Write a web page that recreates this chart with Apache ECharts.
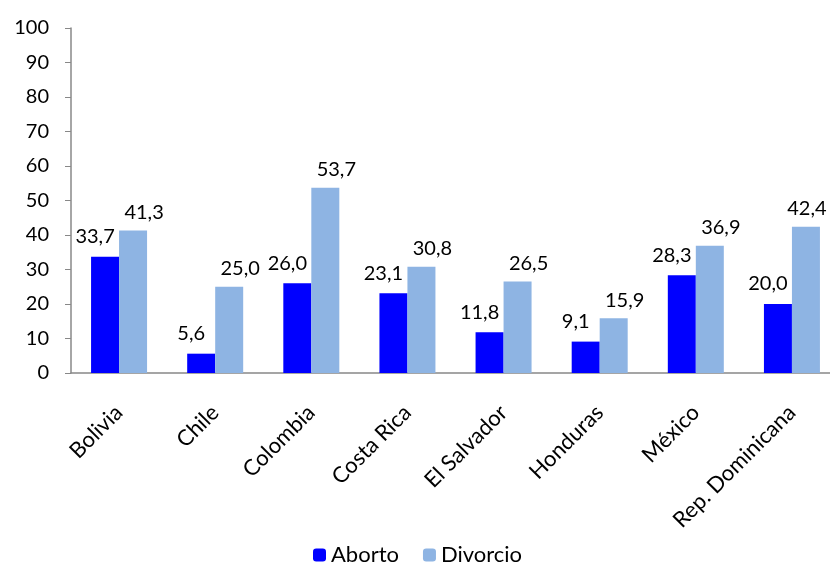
<!DOCTYPE html>
<html>
<head>
<meta charset="utf-8">
<script src="https://cdn.jsdelivr.net/npm/echarts@6/dist/echarts.min.js"></script>
<style>
  html, body { margin: 0; padding: 0; background: #fff; overflow: hidden; }
  /* el eje se sale un poco por la derecha, como en el original */
  #chart { width: 845px; height: 562px; }
</style>
</head>
<body>
<div id="chart"></div>
<script>
  const paises = ['Bolivia', 'Chile', 'Colombia', 'Costa Rica', 'El Salvador', 'Honduras', 'México', 'Rep. Dominicana']
  const aborto = [33.7, 5.6, 26.0, 23.1, 11.8, 9.1, 28.3, 20.0]
  const divorcio = [41.3, 25.0, 53.7, 30.8, 26.5, 15.9, 36.9, 42.4]

  const fuente = 'Lato, "Open Sans", sans-serif'
  const fmt = p => p.value.toFixed(1).replace('.', ',')

  const myChart = echarts.init(document.getElementById('chart'))
  const option = {
    textStyle: { fontFamily: fuente },
    animation: false,
    grid: { left: 71, top: 28, width: 769, height: 345 },
    legend: {
      top: 539,
      left: 308,
      itemWidth: 13,
      itemHeight: 13,
      itemGap: 24,
      textStyle: { fontSize: 22, color: '#000', fontFamily: fuente },
      data: ['Aborto', 'Divorcio']
    },
    xAxis: {
      type: 'category',
      data: paises,
      axisLine: { lineStyle: { color: '#888', width: 1.5 } },
      axisTick: { length: 5, lineStyle: { color: '#888' } },
      axisLabel: { rotate: 45, margin: 36, fontSize: 22, color: '#000', interval: 0 }
    },
    yAxis: {
      type: 'value',
      min: 0,
      max: 100,
      interval: 10,
      splitLine: { show: false },
      axisLine: { show: true, lineStyle: { color: '#888', width: 1.5 } },
      axisTick: { show: true, length: 6, lineStyle: { color: '#888' } },
      axisLabel: { margin: 22, fontSize: 20, color: '#000' }
    },
    series: [
      {
        name: 'Aborto',
        type: 'bar',
        data: aborto,
        barWidth: 28,
        barGap: '0%',
        itemStyle: { color: '#0000ff' },
        label: { show: true, position: 'top', distance: 10, offset: [-10, 0], fontSize: 20, color: '#000', formatter: fmt }
      },
      {
        name: 'Divorcio',
        type: 'bar',
        data: divorcio.map((v, i) => i === divorcio.length - 1 ? { value: v, label: { offset: [1, 0] } } : v),
        barWidth: 28,
        itemStyle: { color: '#8eb4e3' },
        label: { show: true, position: 'top', distance: 8, offset: [11, 0], fontSize: 20, color: '#000', formatter: fmt }
      }
    ]
  }
  myChart.setOption(option)
</script>
</body>
</html>
